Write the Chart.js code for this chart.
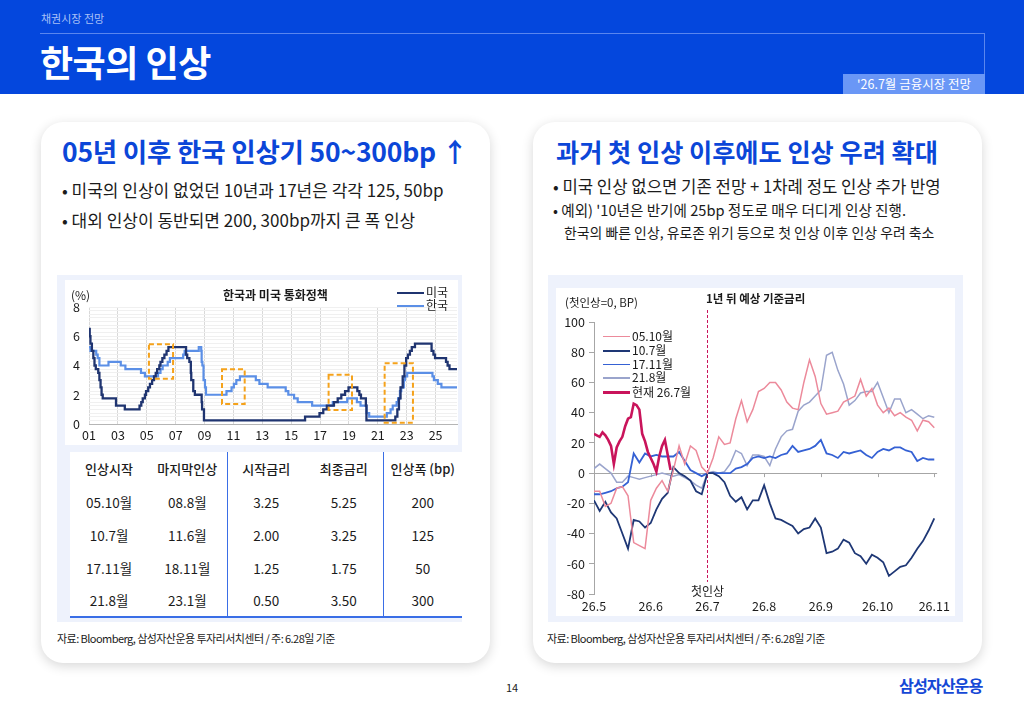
<!DOCTYPE html>
<html><head><meta charset="utf-8">
<script src="https://cdn.jsdelivr.net/npm/chart.js@4.4.1/dist/chart.umd.min.js"></script>
<style>
*{margin:0;padding:0;box-sizing:border-box}
body{width:1024px;height:709px;position:relative;background:#fff;font-family:"Noto Sans CJK KR","Noto Sans",sans-serif;color:#1b1b1b;overflow:hidden}
.abs{position:absolute}
.t{position:absolute;white-space:nowrap;line-height:1}
.card{position:absolute;background:#fff;border-radius:22px;box-shadow:0 3px 12px rgba(0,0,0,0.16)}
.panel{position:absolute;background:#eef2fc}
canvas{position:absolute;background:#fff}
#tbl{position:absolute;border-collapse:collapse;background:#fff;table-layout:fixed}
#tbl td,#tbl th{text-align:center;font-size:13.5px;font-weight:400;color:#1b1b1b;height:33px;padding:0}
#tbl th{font-weight:500;font-size:13px}
#tbl tr:first-child th{border-top:2px solid #3a6ee6;border-bottom:1.5px solid #3a6ee6}
#tbl tr:last-child td{border-bottom:2px solid #3a6ee6}
#tbl td:nth-child(2),#tbl th:nth-child(2),#tbl td:nth-child(4),#tbl th:nth-child(4){border-right:1.5px solid #3a6ee6}
</style></head>
<body>
<!-- header -->
<div class="abs" style="left:0;top:0;width:1024px;height:94px;background:#0447dd"></div>
<div class="t" style="left:41px;top:13px;font-size:11px;color:#a9c1f7">채권시장 전망</div>
<div class="abs" style="left:40px;top:33px;width:945px;height:1px;background:#5a86ee"></div>
<div class="abs" style="left:984px;top:33px;width:1px;height:41px;background:#5a86ee"></div>
<div class="t" style="left:40px;top:43px;font-size:36px;font-weight:700;color:#fff;letter-spacing:-0.5px">한국의 인상</div>
<div class="abs" style="left:843px;top:74px;width:142px;height:20px;background:#6a97f6;color:#fff;font-size:12.5px;text-align:center;line-height:20px;white-space:nowrap">'26.7월 금융시장 전망</div>

<!-- cards -->
<div class="card" style="left:41px;top:122px;width:449px;height:541px"></div>
<div class="card" style="left:533px;top:122px;width:449px;height:541px"></div>

<div class="t" style="left:62px;top:138px;font-size:26.5px;font-weight:700;color:#0b46d8;letter-spacing:-0.2px">05년 이후 한국 인상기 50~300bp ↑</div>
<div class="t" style="left:62px;top:181px;font-size:17px">• 미국의 인상이 없었던 10년과 17년은 각각 125, 50bp</div>
<div class="t" style="left:62px;top:211px;font-size:17px">• 대외 인상이 동반되면 200, 300bp까지 큰 폭 인상</div>

<div class="t" style="left:556px;top:139px;font-size:25.2px;font-weight:700;color:#0b46d8">과거 첫 인상 이후에도 인상 우려 확대</div>
<div class="t" style="left:553px;top:178px;font-size:16.7px">• 미국 인상 없으면 기존 전망 + 1차례 정도 인상 추가 반영</div>
<div class="t" style="left:553px;top:203px;font-size:14.6px">• 예외) '10년은 반기에 25bp 정도로 매우 더디게 인상 진행.</div>
<div class="t" style="left:564px;top:226px;font-size:13.9px">한국의 빠른 인상, 유로존 위기 등으로 첫 인상 이후 인상 우려 축소</div>

<!-- left panel -->
<div class="panel" style="left:57px;top:275px;width:405px;height:347px"></div>
<canvas id="c1" width="393" height="165" style="left:65px;top:280px"></canvas>
<div class="t" style="left:71px;top:289px;font-size:12px">(%)</div>
<div class="t" style="left:223px;top:289px;font-size:12px;font-weight:700">한국과 미국 통화정책</div>
<div id="leg1"></div>
<table id="tbl" style="left:70px;top:452px;width:392px"></table>

<!-- right panel -->
<div class="panel" style="left:548px;top:275px;width:415px;height:347px"></div>
<canvas id="c2" width="399" height="328" style="left:556px;top:288px"></canvas>
<div class="t" style="left:565px;top:297px;font-size:11.5px">(첫인상=0, BP)</div>
<div class="t" style="left:706px;top:293px;font-size:11.5px;font-weight:700">1년 뒤 예상 기준금리</div>
<div class="t" id="hikeLbl" style="left:690px;top:585px;font-size:12px">첫인상</div>
<div id="leg2"></div>

<!-- footers -->
<div class="t" style="left:57px;top:633px;font-size:11px;letter-spacing:-0.55px">자료: Bloomberg, 삼성자산운용 투자리서치센터 / 주: 6.28일 기준</div>
<div class="t" style="left:547px;top:633px;font-size:11px;letter-spacing:-0.55px">자료: Bloomberg, 삼성자산운용 투자리서치센터 / 주: 6.28일 기준</div>
<div class="t" style="left:506px;top:682px;font-size:11px">14</div>
<div class="t" style="left:899px;top:677px;font-size:16.2px;font-weight:700;color:#1548d6;letter-spacing:-1px">삼성자산운용</div>

<script>
// ================= LEFT CHART DATA (policy rates, %) =================
const usX = [2001.0,2001.05,2001.1,2001.2,2001.3,2001.38,2001.47,2001.64,2001.72,2001.8,2001.87,2001.95,2002.87,2003.48,
  2004.5,2004.62,2004.72,2004.87,2004.95,2005.1,2005.22,2005.37,2005.5,2005.62,2005.72,2005.87,2005.95,2006.08,2006.22,2006.37,2006.5,
  2007.72,2007.8,2007.95,2008.05,2008.08,2008.22,2008.33,2008.8,2008.83,2008.96,2015.96,2016.96,2017.22,2017.47,2017.96,2018.22,2018.47,2018.73,2018.97,
  2019.58,2019.72,2019.83,2020.17,2020.21,2022.21,2022.35,2022.46,2022.57,2022.72,2022.84,2022.96,2023.08,2023.22,2023.35,2023.57,
  2024.72,2024.85,2024.96,2025.72,2025.83,2025.96,2026.48];
const usY = [6.5,6.0,5.5,5.0,4.5,4.0,3.75,3.5,3.0,2.5,2.0,1.75,1.25,1.0,
  1.25,1.5,1.75,2.0,2.25,2.5,2.75,3.0,3.25,3.5,3.75,4.0,4.25,4.5,4.75,5.0,5.25,
  4.75,4.5,4.25,3.5,3.0,2.25,2.0,1.5,1.0,0.25,0.5,0.75,1.0,1.25,1.5,1.75,2.0,2.25,2.5,
  2.25,2.0,1.75,1.25,0.25,0.5,1.0,1.75,2.5,3.25,4.0,4.5,4.75,5.0,5.25,5.5,
  5.0,4.75,4.5,4.25,4.0,3.75,3.75];
const krX = [2001.0,2001.1,2001.5,2001.6,2001.72,2002.35,2003.2,2003.52,2004.6,2004.87,2005.78,2005.95,2006.1,2006.45,2006.6,2007.52,2007.62,
  2008.6,2008.77,2008.8,2008.85,2008.93,2009.03,2009.1,2010.52,2010.87,2011.03,2011.2,2011.45,2012.55,2012.8,2013.37,2014.62,2014.8,
  2015.2,2015.45,2016.45,2017.88,2018.88,2019.55,2019.8,2020.22,2020.4,2021.62,2021.88,2022.03,2022.3,2022.4,2022.53,2022.62,2022.8,2022.88,2023.03,
  2024.78,2024.88,2025.15,2025.4,2026.48];
const krY = [5.25,5.0,4.75,4.5,4.0,4.25,4.0,3.75,3.5,3.25,3.5,3.75,4.0,4.25,4.5,4.75,5.0,
  5.25,5.0,4.25,4.0,3.0,2.5,2.0,2.25,2.5,2.75,3.0,3.25,3.0,2.75,2.5,2.25,2.0,
  1.75,1.5,1.25,1.5,1.75,1.5,1.25,0.75,0.5,0.75,1.0,1.25,1.5,1.75,2.25,2.5,3.0,3.25,3.5,
  3.25,3.0,2.75,2.5,2.5];
const yearTicks = [2001,2003,2005,2007,2009,2011,2013,2015,2017,2019,2021,2023,2025];
const seriesNames1 = ['미국','한국'];
// highlighted hike periods (years, %)
const boxStart = [2005.15,2010.21,2017.59,2021.47];
const boxEnd   = [2006.82,2011.78,2019.21,2023.43];
const boxLow   = [3.09,1.37,0.96,0.09];
const boxHigh  = [5.46,3.75,3.36,4.16];

// ================= TABLE DATA =================
const tblHead = ['인상시작','마지막인상','시작금리','최종금리','인상폭 (bp)'];
const hikeStart = ['05.10월','10.7월','17.11월','21.8월'];
const hikeLast  = ['08.8월','11.6월','18.11월','23.1월'];
const rateStart = ['3.25','2.00','1.25','0.50'];
const rateEnd   = ['5.25','3.25','1.75','3.50'];
const hikeBp    = ['200','125','50','300'];

// ================= RIGHT CHART DATA (bp, first hike = 0; x in months of '26) =================
const monthTicks = [5,6,7,8,9,10,11];
const firstHike = 7;
const seriesNames2 = ['05.10월','10.7월','17.11월','21.8월','현재 26.7월'];
const s0510 = [-12,-12,-22,-20,-10,-9,-15,-46,-48,-50,-18,-10,-5,-12,2,18,6,18,15,4,
  0,10,24,19,20,36,48,34,42,54,56,60,60,55,47,43,42,60,75,64,
  46,39,40,41,47,49,51,62,51,56,45,40,43,38,40,37,35,28,35,34,30];
const s1007 = [-18,-25,-19,-26,-30,-40,-50,-31,-32,-36,-33,-24,-17,-13,4,0,-2,-5,-12,-14,
  0,0,-2,-6,-15,-19,-16,-24,-18,-18,-8,-20,-30,-31,-33,-35,-40,-37,-36,-30,
  -36,-53,-52,-50,-44,-46,-53,-55,-60,-54,-56,-59,-68,-65,-62,-61,-56,-50,-45,-38,-30];
const s1711 = [-14,-14,-13,-12,-10,-9,-6,13,7,13,11,12,11,11,11,14,8,2,0,-2,
  0,0,0,0,0,3,4,6,10,11,10,11,10,12,13,18,14,15,16,18,
  22,13,12,10,14,13,14,15,12,10,14,16,15,17,17,15,14,8,10,9,9];
const s2108 = [3,6,3,0,-6,-6,-2,-3,-4,-3,-2,-1,0,-1,-2,-1,-3,-5,-8,-10,
  0,1,0,1,6,15,13,5,12,12,11,5,16,24,28,29,41,45,47,51,
  55,78,80,68,59,45,48,53,54,54,60,50,40,49,49,40,42,39,36,38,37];
const s2607 = [26,25,24,27,25,22,18,6,17,21,24,31,36,37,46,45,42,26,21,14,10,6,1,11,18,22,12,2];
const gridStep = 0.1, curStep = 0.05;

// ================= STYLES =================
const C_US='#1f3470', C_KR='#5b8fe6', C_BOX='#f5a21b';
const C2 = ['#ec8a9b','#1e3775','#3561d4','#9aa4cc','#c9145b'];
const W2 = [1.5,1.8,1.8,1.5,2.6];
const FONT = '"Noto Sans CJK KR","Noto Sans",sans-serif';
Chart.defaults.font.family = FONT;
Chart.defaults.color = '#1b1b1b';

// ---- table ----
(function(){
  const t = document.getElementById('tbl');
  const cg = document.createElement('colgroup');
  [78,79,78,78,79].forEach(w=>{const c=document.createElement('col');c.style.width=w+'px';cg.appendChild(c);});
  t.appendChild(cg);
  const hr = document.createElement('tr');
  tblHead.forEach(h=>{const th=document.createElement('th');th.textContent=h;hr.appendChild(th);});
  t.appendChild(hr);
  hikeStart.forEach((s,i)=>{
    const tr=document.createElement('tr');
    [s,hikeLast[i],rateStart[i],rateEnd[i],hikeBp[i]].forEach(v=>{const td=document.createElement('td');td.textContent=v;tr.appendChild(td);});
    t.appendChild(tr);
  });
})();

// ---- legends (HTML) ----
function legend(el, names, colors, widths, x, ys, lineW, fs){
  const host=document.getElementById(el);
  names.forEach((n,i)=>{
    const l=document.createElement('div');
    l.className='abs';
    l.style.cssText=`left:${x}px;top:${ys[i]-widths[i]/2}px;width:${lineW}px;height:${widths[i]}px;background:${colors[i]}`;
    host.appendChild(l);
    const tx=document.createElement('div');
    tx.className='t';
    tx.style.cssText=`left:${x+lineW+2}px;top:${ys[i]-fs/2-1}px;font-size:${fs}px`;
    tx.textContent=n;
    host.appendChild(tx);
  });
}
legend('leg1', seriesNames1, [C_US,C_KR], [2.2,2.2], 397, [293,306], 27, 12);
legend('leg2', seriesNames2, C2, W2, 603, [336.5,351,364.5,378,392.5], 27, 12);

// ---- left chart ----
const boxPlugin = {id:'boxes', afterDatasetsDraw(chart){
  const {ctx, scales:{x,y}} = chart;
  ctx.save(); ctx.strokeStyle=C_BOX; ctx.lineWidth=2; ctx.setLineDash([5,3]);
  boxStart.forEach((b,i)=>{
    const l=x.getPixelForValue(b), r=x.getPixelForValue(boxEnd[i]);
    const t=y.getPixelForValue(boxHigh[i]), bt=y.getPixelForValue(boxLow[i]);
    ctx.strokeRect(l,t,r-l,bt-t);
  });
  ctx.restore();
}};
new Chart(document.getElementById('c1'), {
  type:'line',
  data:{datasets:[
    {label:seriesNames1[0], data:usX.map((v,i)=>({x:v,y:usY[i]})), borderColor:C_US, borderWidth:2.3, stepped:true, pointRadius:0, order:0},
    {label:seriesNames1[1], data:krX.map((v,i)=>({x:v,y:krY[i]})), borderColor:C_KR, borderWidth:2.2, stepped:true, pointRadius:0, order:1}
  ]},
  options:{
    responsive:false, animation:false, devicePixelRatio:1,
    layout:{padding:{top:27,right:1,left:0,bottom:0}},
    plugins:{legend:{display:false}, tooltip:{enabled:false}},
    scales:{
      x:{type:'linear', min:2001, max:2026.48,
        afterBuildTicks:s=>{s.ticks=yearTicks.map(v=>({value:v}));},
        afterFit:s=>{s.height=21;},
        ticks:{callback:v=>String(v%100).padStart(2,'0'), font:{size:12.5}, color:'#1b1b1b', padding:4, maxRotation:0, autoSkip:false},
        grid:{color:'#d9d9d9', drawTicks:false},
        border:{display:true, color:'#b5b5b5'}},
      y:{min:0, max:8,
        afterBuildTicks:s=>{const a=[];for(let v=0;v<=8.001;v+=0.25)a.push({value:Math.round(v*100)/100});s.ticks=a;},
        afterFit:s=>{s.width=24;},
        ticks:{callback:v=>(v%2===0?String(v):''), font:{size:12.5}, color:'#1b1b1b', padding:9, autoSkip:false},
        grid:{color:c=>(c.tick.value===0?'rgba(0,0,0,0)':'#f0f0f0'), drawTicks:false},
        border:{display:false}}
    }
  },
  plugins:[boxPlugin]
});

// ---- right chart ----
const gridX = s0510.map((_,i)=>5+i*gridStep);
const curX = s2607.map((_,i)=>5+i*curStep);
const hikePlugin = {id:'hike',
  beforeDatasetsDraw(chart){
    const {ctx, chartArea, scales:{x,y}} = chart;
    const y0=y.getPixelForValue(0);
    ctx.save(); ctx.strokeStyle='#a6a6a6'; ctx.lineWidth=1;
    monthTicks.forEach(m=>{const px=Math.round(x.getPixelForValue(m))+0.5; ctx.beginPath(); ctx.moveTo(px,y0); ctx.lineTo(px,y0+4); ctx.stroke();});
    const px=Math.round(x.getPixelForValue(firstHike))+0.5;
    ctx.strokeStyle=C2[4]; ctx.setLineDash([3,2]);
    ctx.beginPath(); ctx.moveTo(px, chartArea.top-12); ctx.lineTo(px, y.getPixelForValue(-72)); ctx.stroke();
    ctx.restore();
    const lbl=document.getElementById('hikeLbl');
    lbl.style.left=(556+px-lbl.offsetWidth/2)+'px';
  }};
const series2 = [s0510,s1007,s1711,s2108];
new Chart(document.getElementById('c2'), {
  type:'line',
  data:{datasets: series2.map((s,k)=>({label:seriesNames2[k], data:s.map((v,i)=>({x:gridX[i],y:v})), borderColor:C2[k], borderWidth:W2[k], pointRadius:0, order:k+1}))
    .concat([{label:seriesNames2[4], data:s2607.map((v,i)=>({x:curX[i],y:v})), borderColor:C2[4], borderWidth:W2[4], pointRadius:0, order:0}])},
  options:{
    responsive:false, animation:false, devicePixelRatio:1,
    layout:{padding:{top:34,right:13,left:0,bottom:0}},
    plugins:{legend:{display:false}, tooltip:{enabled:false}},
    scales:{
      x:{type:'linear', min:5, max:11.05,
        afterBuildTicks:s=>{s.ticks=monthTicks.map(v=>({value:v}));},
        afterFit:s=>{s.height=22;},
        ticks:{callback:v=>'26.'+v, font:{size:12.5}, color:'#1b1b1b', padding:5, maxRotation:0, autoSkip:false},
        grid:{display:false, drawTicks:false}, border:{display:false}},
      y:{min:-80, max:100,
        afterFit:s=>{s.width=38;},
        ticks:{stepSize:20, font:{size:12.5}, color:'#1b1b1b', padding:4},
        grid:{color:c=>(c.tick.value===0?'#a6a6a6':'rgba(0,0,0,0)'), tickColor:'#a6a6a6', tickLength:5},
        border:{display:true, color:'#a6a6a6'}}
    }
  },
  plugins:[hikePlugin]
});
</script>
</body></html>
